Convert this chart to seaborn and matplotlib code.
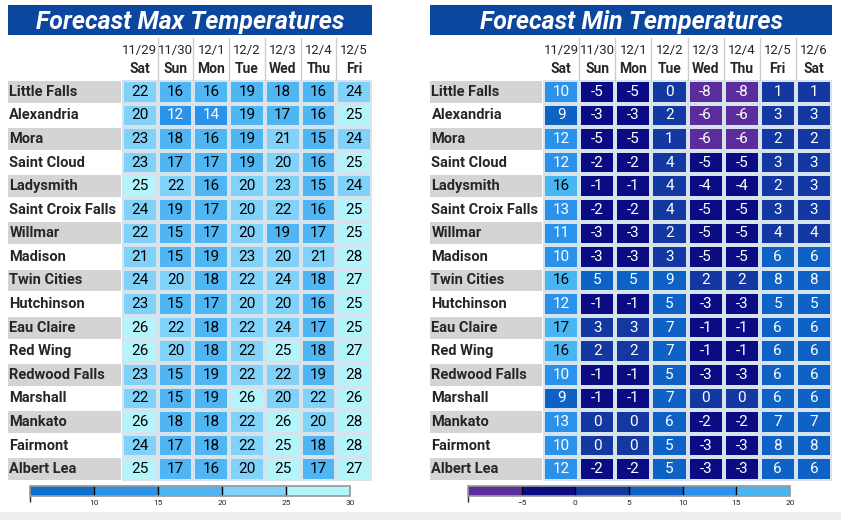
import numpy as np
import pandas as pd
import seaborn as sns
import matplotlib.pyplot as plt
from matplotlib.colors import ListedColormap, BoundaryNorm
from matplotlib.patches import Rectangle

cities = ["Little Falls", "Alexandria", "Mora", "Saint Cloud", "Ladysmith", "Saint Croix Falls",
          "Willmar", "Madison", "Twin Cities", "Hutchinson", "Eau Claire", "Red Wing",
          "Redwood Falls", "Marshall", "Mankato", "Fairmont", "Albert Lea"]
max_dates = ["11/29", "11/30", "12/1", "12/2", "12/3", "12/4", "12/5"]
max_days = ["Sat", "Sun", "Mon", "Tue", "Wed", "Thu", "Fri"]
min_dates = ["11/29", "11/30", "12/1", "12/2", "12/3", "12/4", "12/5", "12/6"]
min_days = ["Sat", "Sun", "Mon", "Tue", "Wed", "Thu", "Fri", "Sat"]

max_vals = [
    [22, 16, 16, 19, 18, 16, 24],
    [20, 12, 14, 19, 17, 16, 25],
    [23, 18, 16, 19, 21, 15, 24],
    [23, 17, 17, 19, 20, 16, 25],
    [25, 22, 16, 20, 23, 15, 24],
    [24, 19, 17, 20, 22, 16, 25],
    [22, 15, 17, 20, 19, 17, 25],
    [21, 15, 19, 23, 20, 21, 28],
    [24, 20, 18, 22, 24, 18, 27],
    [23, 15, 17, 20, 20, 16, 25],
    [26, 22, 18, 22, 24, 17, 25],
    [26, 20, 18, 22, 25, 18, 27],
    [23, 15, 19, 22, 22, 19, 28],
    [22, 15, 19, 26, 20, 22, 26],
    [26, 18, 18, 22, 26, 20, 28],
    [24, 17, 18, 22, 25, 18, 28],
    [25, 17, 16, 20, 25, 17, 27],
]
min_vals = [
    [10, -5, -5, 0, -8, -8, 1, 1],
    [9, -3, -3, 2, -6, -6, 3, 3],
    [12, -5, -5, 1, -6, -6, 2, 2],
    [12, -2, -2, 4, -5, -5, 3, 3],
    [16, -1, -1, 4, -4, -4, 2, 3],
    [13, -2, -2, 4, -5, -5, 3, 3],
    [11, -3, -3, 2, -5, -5, 4, 4],
    [10, -3, -3, 3, -5, -5, 6, 6],
    [16, 5, 5, 9, 2, 2, 8, 8],
    [12, -1, -1, 5, -3, -3, 5, 5],
    [17, 3, 3, 7, -1, -1, 6, 6],
    [16, 2, 2, 7, -1, -1, 6, 6],
    [10, -1, -1, 5, -3, -3, 6, 6],
    [9, -1, -1, 7, 0, 0, 6, 6],
    [13, 0, 0, 6, -2, -2, 7, 7],
    [10, 0, 0, 5, -3, -3, 8, 8],
    [12, -2, -2, 5, -3, -3, 6, 6],
]

max_bounds = [5, 10, 15, 20, 25, 30]
max_colors = ["#0b6fd0", "#2b92ea", "#4fb6f3", "#80d2f8", "#b4f5fc"]
min_bounds = [-10, -5, 0, 5, 10, 15, 20]
min_colors = ["#5b2c9c", "#0b0c84", "#1438a2", "#0e62c6", "#2a92ea", "#48b6f2"]

sns.set_theme(style="white")
plt.rcParams['font.family'] = ['Roboto', 'DejaVu Sans']

W, H = 841, 520
fig = plt.figure(figsize=(W / 100, H / 100), dpi=100)
fig.patch.set_facecolor("white")


def px(x0, y0, x1, y1):
    return [x0 / W, 1 - y1 / H, (x1 - x0) / W, (y1 - y0) / H]


def panel(vals, dates, days, bounds, colors, title, x_lab, x_c0, x_c1, cb_x0, cb_x1, dark_thresh):
    df = pd.DataFrame(vals, index=cities, columns=dates)
    cmap = ListedColormap(colors)
    norm = BoundaryNorm(bounds, cmap.N)
    ax = fig.add_axes(px(x_c0, 80, x_c1, 481))
    sns.heatmap(df, ax=ax, cmap=cmap, norm=norm, cbar=False, annot=True, fmt="d",
                linewidths=1.6, linecolor="#d6e2ec",
                annot_kws={"fontsize": 11, "color": "black"})
    for t, v in zip(ax.texts, np.array(vals).ravel()):
        t.set_color("white" if v < dark_thresh else "black")
    ax.set_xticks([]); ax.set_yticks([])
    ax.set_xlabel(""); ax.set_ylabel("")
    lab_w = (x_c0 - x_lab) / (x_c1 - x_c0) * len(dates)
    for i, c in enumerate(cities):
        if i % 2 == 0:
            ax.add_patch(Rectangle((-lab_w, i + 0.04), lab_w - 0.04, 0.92, facecolor="#d4d4d4",
                                   edgecolor="none", clip_on=False))
        ax.text(-lab_w + 0.04, i + 0.5, c, ha="left", va="center", fontsize=10.5,
                fontweight="bold", clip_on=False)
    for j, (d, dd) in enumerate(zip(dates, days)):
        ax.text(j + 0.5, -1.25, d, ha="center", va="center", fontsize=9.5, clip_on=False)
        ax.text(j + 0.5, -0.45, dd, ha="center", va="center", fontsize=10,
                fontweight="bold", clip_on=False)
        if j > 0:
            ax.plot([j, j], [-1.8, 0], color="#cccccc", lw=1, clip_on=False)
    tax = fig.add_axes(px(x_lab, 5, x_c1, 35))
    tax.set_facecolor("#0c479f")
    tax.set_xticks([]); tax.set_yticks([])
    for s in tax.spines.values():
        s.set_visible(False)
    tax.text(0.5, 0.45, title, ha="center", va="center", color="white", fontsize=18,
             fontstyle="italic", fontweight="bold", transform=tax.transAxes)
    cax = fig.add_axes(px(cb_x0, 486, cb_x1, 496))
    cb = fig.colorbar(plt.cm.ScalarMappable(norm=norm, cmap=cmap), cax=cax,
                      orientation="horizontal")
    cb.set_ticks(bounds[1:])
    cb.ax.tick_params(labelsize=6, length=0, pad=3)
    cb.outline.set_edgecolor("#999999")
    for b in bounds[1:-1]:
        cax.axvline(b, color="black", lw=1)


panel(max_vals, max_dates, max_days, max_bounds, max_colors, "Forecast Max Temperatures",
      8, 122, 372, 30, 350, 15)
panel(min_vals, min_dates, min_days, min_bounds, min_colors, "Forecast Min Temperatures",
      430, 543, 832, 468, 790, 15)

fig.add_artist(Rectangle((0, 0), 1, 8 / H, transform=fig.transFigure, facecolor="#eeeeee",
                         edgecolor="none"))
fig.savefig("out.png", dpi=100)
